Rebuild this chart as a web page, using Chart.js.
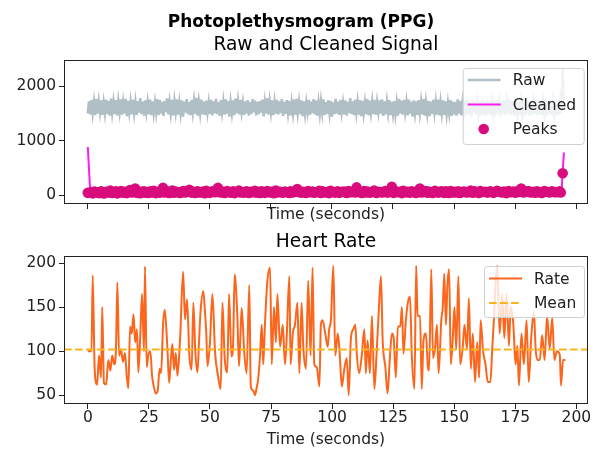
<!DOCTYPE html>
<html>
<head>
<meta charset="utf-8">
<script src="https://cdn.jsdelivr.net/npm/chart.js@4.4.1/dist/chart.umd.min.js"></script>
<style>
  body { margin: 0; background: #fff; }
  #wrap { position: relative; width: 593px; height: 450px; }
  canvas { position: absolute; left: 0; }
</style>
</head>
<body>
<div id="wrap">
  <canvas id="ppg" width="593" height="230" style="top:0"></canvas>
  <canvas id="hr" width="593" height="220" style="top:230px"></canvas>
</div>
<script>
// x axis (seconds)
const timeMin = -9.75, timeMax = 204.75;
const timeTicks = [0, 25, 50, 75, 100, 125, 150, 175, 200];
const rawStep = 0.5;   // seconds between plotted raw samples
const cleanStep = 1;   // seconds between plotted cleaned samples

// top panel
const signalTicks = [0, 1000, 2000];
const rawSignal = [
  1500,1720,1480,1745,1510,1700,1465,1760,1495,1715,
  1525,1735,1470,1690,1505,1750,1485,1725,1455,1770,
  1515,1705,1490,1740,1460,1720,1530,1755,1475,1695,
  1500,1765,1445,1730,1520,1710,1480,1745,1505,1700,
  1470,1725,1510,1780,1490,1715,1455,1735,1525,1705,
  1485,1750,1465,1720,1500,1695,1515,1760,1470,1740,
  1495,1710,1450,1730,1520,1775,1480,1700,1505,1745,
  1460,1720,1530,1755,1475,1690,1500,1735,1440,1715,
  1510,1760,1485,1705,1465,1740,1520,1725,1490,1785,
  1455,1700,1505,1750,1480,1715,1470,1730,1515,1695,
  1490,1745,1460,1720,1500,1765,1485,1705,1450,1740,
  1520,1710,1475,1755,1495,1725,1440,1700,1510,1735,
  1465,1770,1505,1715,1480,1745,1525,1690,1470,1720,
  1500,1740,1455,1705,1490,1760,1515,1730,1460,1710,
  1485,1725,1510,1750,1445,1695,1500,1775,1475,1715,
  1520,1735,1465,1700,1495,1745,1480,1720,1505,1760,
  1450,1710,1490,1740,1515,1725,1460,1690,1500,1750,
  1475,1765,1510,1705,1485,1735,1445,1720,1495,1700,
  1530,1745,1470,1715,1505,1760,1480,1730,1455,1695,
  1495,1720,1520,1755,1465,1705,1490,1740,1510,1725,
  1440,1700,1485,1765,1500,1715,1470,1745,1520,1690,
  1480,1735,1455,1710,1505,1780,1490,1720,1465,1750,
  1510,1705,1475,1740,1445,1725,1500,1695,1485,1760,
  1460,1730,1515,1715,1490,1745,1470,1700,1525,1735,
  1495,1755,1450,1720,1480,1705,1510,1740,1465,1710,
  1505,1725,1485,1690,1455,1765,1500,1730,1475,1745,
  1520,1700,1460,1750,1495,1715,1440,1735,1510,1720,
  1470,1740,1505,1705,1480,1760,1455,1695,1500,1725,
  1445,1715,1490,1745,1515,1710,1475,1750,1460,1700,
  1500,1735,1470,1720,1485,1690,1510,1740,1450,1715,
  1480,1705,1455,1755,1495,1725,1465,1700,1505,1730,
  1460,1745,1490,1710,1440,1735,1500,1720,1475,1695,
  1510,1725,1465,1750,1485,1705,1455,1740,1495,1715,
  1470,1700,1505,1730,1460,1745,1490,1690,1445,1720,
  1495,1735,1475,1710,1500,1755,1465,1725,1485,1705,
  1455,1740,1510,1715,1470,1695,1490,1730,1460,1745,
  1500,1710,1450,1725,1480,1705,1495,1740,1465,1720,
  1485,1735,1470,1700,1505,1750,1455,1715,1490,1730,
  1475,1705,1495,1725,1460,1740,1480,1710,1500,2320,
  1560
];
const cleanedSignal = [
  880,45,5,60,12,55,-5,65,10,50,
  0,58,15,62,-8,48,20,66,3,54,
  8,60,-4,52,18,64,2,57,11,49,
  -6,61,14,55,0,67,9,50,-3,59,
  16,53,4,63,-7,56,12,48,1,65,
  7,51,-2,60,15,54,-5,62,10,47,
  3,66,13,50,-8,58,6,55,18,61,
  -1,49,9,64,2,52,-6,59,14,57,
  5,63,-3,50,11,66,0,54,8,48,
  -4,60,16,53,3,62,-7,56,12,51,
  1,65,7,49,-2,58,15,61,4,55,
  -5,52,10,64,0,57,13,50,-6,60,
  9,48,2,63,17,54,-3,59,6,66,
  -8,51,11,56,3,62,-1,49,14,58,
  5,64,-4,53,10,60,1,55,-7,61,
  12,50,4,57,-2,65,8,52,16,59,
  0,54,-5,62,9,48,3,63,-3,56,
  13,51,6,60,-8,58,11,49,2,64,
  -1,55,15,61,4,53,-6,57,10,50,
  7,58,5,62,40,780
];

// heart rate (one value per detected beat, time in seconds)
const hrTime = [
  0,1.5,2,2.8,3.8,4.6,5.4,5.9,6.6,7.5,
  8.4,9.2,10,10.8,11.5,12.1,12.8,13.6,14.4,15.2,
  16,16.6,17.3,18,18.7,19.4,20.1,20.7,21.5,22.2,
  23,23.4,24.1,24.8,25.6,26.3,27,27.8,28.6,29.4,
  30,30.8,31.5,32.6,33.3,34,34.6,35.3,36,36.7,
  37.8,39,39.8,40.6,41.6,42.5,43.2,44,44.9,45.5,
  46.2,47.3,47.9,48.5,49,50,51,52.1,53.3,54.4,
  55.1,56,57.1,57.8,58.8,59.5,60.1,61.2,61.9,62.5,
  63,64,65,66.1,66.7,67.8,68.4,69.1,69.8,70.5,
  71.2,71.8,72.5,73.5,74.6,75.3,76.2,77,77.6,78.7,
  79.8,80.7,81.4,82.5,83,83.9,84.8,85.8,86.6,87.5,
  88.2,89.3,90.2,91.2,92,92.7,93.7,94.8,95.4,96.1,
  97.2,98.2,98.8,99.5,100.5,101.3,102.3,103,104,105,
  106,106.8,107.7,108.7,109.5,110.1,111.1,112.2,113.2,113.8,
  114.5,115.5,116.3,117.3,118.2,119.1,120,120.7,121.8,122.7,
  123.7,124.5,125.2,126.1,126.9,127.9,128.6,129.2,130.2,131,
  131.9,132.6,133.7,134.4,135,136,136.7,137.4,138.4,139.2,
  139.7,140.6,141.3,142.2,142.9,143.6,144.7,145.3,145.9,146.6,
  147.2,147.9,148.6,149.4,150.1,150.8,151.7,152.4,153.4,154.2,
  155.2,156,156.8,157.6,158.5,159.4,160.2,160.8,161.8,162.8,
  163.7,164.8,165.5,166.2,167.6,168.6,169.6,170.5,171.4,172.4,
  173.1,174.2,175.1,175.8,176.5,177.5,178.5,179.6,180.5,181.5,
  182.6,183.3,184,185,186,187,188,189.1,190.1,191,
  192,193.2,193.7,194.5,195.5
];
const hrRate = [
  100,100,186,80,62,95,70,150,64,62,
  90,78,95,85,100,178,95,102,88,98,
  70,58,128,120,142,110,125,76,120,165,
  100,196,82,96,100,72,60,52,55,80,
  75,130,147,102,64,90,108,79,98,72,
  116,190,136,159,94,79,155,100,76,110,
  147,168,147,120,83,110,165,98,72,57,
  155,94,76,165,94,110,187,140,83,120,
  149,100,75,175,60,55,50,58,70,95,
  130,85,130,180,195,85,150,110,165,105,
  130,85,115,185,85,120,130,155,75,155,
  105,80,180,95,195,85,82,60,130,135,
  120,105,125,135,197,95,120,102,60,80,
  92,50,115,125,130,97,75,97,125,75,
  112,75,140,57,97,145,185,112,82,52,
  95,120,115,70,128,128,150,97,135,155,
  162,97,57,197,140,140,57,112,120,82,
  78,193,92,105,130,75,135,150,188,130,
  175,193,85,115,150,102,185,85,102,130,
  102,160,80,120,65,110,70,135,100,85,
  65,65,100,135,197,120,165,115,165,106,
  150,130,85,106,61,120,85,135,65,115,
  145,103,90,90,118,90,140,103,138,90,
  100,96,61,90,90
];
const hrMean = 102;
const rateTicks = [50, 100, 150, 200];

// cleaned amplitude at each beat (paired with hrTime by index)
const peakAmp = [
  40,55,30,62,48,35,70,52,28,60,
  45,80,38,55,66,30,50,72,42,58,
  35,64,90,48,55,120,40,62,33,57,
  70,44,52,38,66,49,75,35,58,42,
  60,130,45,68,37,55,80,41,63,50,
  36,72,48,58,95,44,61,38,70,52,
  47,65,33,78,55,40,68,50,130,45,
  62,38,74,51,43,66,35,59,80,48,
  55,42,70,36,61,50,77,44,58,39,
  68,53,40,72,46,60,34,82,49,57,
  41,65,54,38,70,47,63,110,52,44,
  59,36,72,50,64,41,56,75,38,66,
  48,60,35,78,52,44,69,40,58,63,
  37,74,50,62,45,140,56,39,71,48,
  65,42,58,80,36,60,53,47,72,44,
  57,150,40,68,52,61,35,76,49,58,
  43,70,55,38,64,120,46,59,72,41,
  62,50,36,75,54,44,68,57,40,66,
  52,39,73,48,61,45,70,36,58,64,
  47,56,80,42,67,51,38,74,55,60,
  44,69,53,40,77,58,46,63,35,71,
  50,62,41,68,55,120,45,59,73,48,
  57,42,66,51,38,74,60,45,69,53,
  50,70,45,400
];

const FONT = 'DejaVu Sans';
const SMALL = 15.5, LARGE = 18.6;
Chart.defaults.font.family = FONT;
Chart.defaults.font.size = SMALL;
Chart.defaults.color = '#222';

// box around the plot area, like matplotlib spines
const frame = {
  id: 'frame',
  afterDraw(chart) {
    const a = chart.chartArea, ctx = chart.ctx;
    ctx.save();
    ctx.strokeStyle = '#222';
    ctx.lineWidth = 1;
    ctx.strokeRect(Math.round(a.left) + 0.5, Math.round(a.top) + 0.5,
      Math.round(a.right - a.left) - 1, Math.round(a.bottom - a.top) - 1);
    ctx.restore();
  }
};

// legend drawn inside the plot, upper right
const insideLegend = {
  id: 'insideLegend',
  afterDraw(chart, args, o) {
    const a = chart.chartArea, ctx = chart.ctx;
    const x = a.right - 4 - o.width, y = a.top + o.top;
    ctx.save();
    ctx.fillStyle = 'rgba(255,255,255,0.8)';
    ctx.strokeStyle = '#d0d0d0';
    ctx.lineWidth = 1;
    ctx.beginPath();
    ctx.roundRect(x + 0.5, y + 0.5, o.width, o.height, 3);
    ctx.fill();
    ctx.stroke();
    ctx.font = SMALL + 'px "' + FONT + '"';
    ctx.textBaseline = 'middle';
    o.items.forEach((label, i) => {
      const ds = chart.data.datasets.find(d => d.label === label);
      const cy = y + o.first + i * o.gap;
      if (ds.showLine === false) {
        ctx.fillStyle = ds.backgroundColor;
        ctx.beginPath();
        ctx.arc(x + 21, cy, ds.pointRadius, 0, Math.PI * 2);
        ctx.fill();
      } else {
        ctx.strokeStyle = ds.borderColor;
        ctx.lineWidth = ds.legendWidth || ds.borderWidth;
        ctx.setLineDash(ds.borderDash || []);
        ctx.beginPath();
        ctx.moveTo(x + 5, cy);
        ctx.lineTo(x + 38, cy);
        ctx.stroke();
        ctx.setLineDash([]);
      }
      ctx.fillStyle = '#222';
      ctx.fillText(label, x + 50, cy + 1);
    });
    ctx.restore();
  }
};

function pts(xs, ys) { return ys.map((v, i) => ({ x: xs[i], y: v })); }
function grid(values) {
  return (s) => { s.ticks = values.map(v => ({ value: v })); };
}
const tickGrid = { display: true, drawOnChartArea: false, drawTicks: true, tickLength: 5, color: '#222', lineWidth: 1 };

const rawTime = rawSignal.map((v, i) => i * rawStep);
const cleanTime = cleanedSignal.map((v, i) => i * cleanStep);

new Chart(document.getElementById('ppg'), {
  type: 'line',
  data: {
    datasets: [
      { label: 'Peaks', data: pts(hrTime, peakAmp), showLine: false, pointRadius: 5.3,
        pointHoverRadius: 5.3, backgroundColor: '#D80C7C', borderWidth: 0, pointBorderWidth: 0 },
      { label: 'Cleaned', data: pts(cleanTime, cleanedSignal), borderColor: '#FB1CF0',
        borderWidth: 2, pointRadius: 0, tension: 0 },
      { label: 'Raw', data: pts(rawTime, rawSignal), borderColor: '#B0BEC5',
        borderWidth: 2.6, legendWidth: 2.5, pointRadius: 0, tension: 0 }
    ]
  },
  options: {
    responsive: false,
    animation: false,
    events: [],
    layout: { padding: { left: 14, right: 5, top: 0, bottom: 0 } },
    plugins: {
      legend: { display: false },
      tooltip: { enabled: false },
      title: { display: true, text: 'Photoplethysmogram (PPG)', color: '#000',
        font: { size: 17, weight: 'bold' }, padding: { top: 12, bottom: 0 } },
      subtitle: { display: true, text: 'Raw and Cleaned Signal', color: '#000', fullSize: false,
        font: { size: LARGE }, padding: { top: 1.4, bottom: 3.9 } },
      insideLegend: { items: ['Raw', 'Cleaned', 'Peaks'], width: 121, height: 76, top: 8, first: 12, gap: 24.5 }
    },
    scales: {
      x: {
        type: 'linear', min: timeMin, max: timeMax,
        afterBuildTicks: grid(timeTicks),
        afterFit: s => { s.height = 26; },
        ticks: { display: false },
        grid: tickGrid,
        border: { display: false },
        title: { display: true, text: 'Time (seconds)', color: '#222', padding: { top: 0, bottom: 5.7 } }
      },
      y: {
        min: -165, max: 2477,
        afterBuildTicks: grid(signalTicks),
        afterFit: s => { s.width = 50; },
        ticks: { callback: v => String(v), padding: 3 },
        grid: tickGrid,
        border: { display: false }
      }
    }
  },
  plugins: [frame, insideLegend]
});

new Chart(document.getElementById('hr'), {
  type: 'line',
  data: {
    datasets: [
      { label: 'Mean', data: [{ x: timeMin, y: hrMean }, { x: timeMax, y: hrMean }],
        borderColor: '#FBB41C', borderWidth: 2, borderDash: [7.7, 3.3], pointRadius: 0 },
      { label: 'Rate', data: pts(hrTime, hrRate), borderColor: '#FB661C',
        borderWidth: 2, pointRadius: 0, cubicInterpolationMode: 'monotone' }
    ]
  },
  options: {
    responsive: false,
    animation: false,
    events: [],
    layout: { padding: { left: 0, right: 5, top: 0, bottom: 0 } },
    plugins: {
      legend: { display: false },
      tooltip: { enabled: false },
      title: { display: true, text: 'Heart Rate', color: '#000', fullSize: false,
        font: { size: LARGE, weight: 'normal' }, padding: { top: 0.9, bottom: 2.8 } },
      insideLegend: { items: ['Rate', 'Mean'], width: 100, height: 51, top: 10, first: 12.5, gap: 24.5 }
    },
    scales: {
      x: {
        type: 'linear', min: timeMin, max: timeMax,
        afterBuildTicks: grid(timeTicks),
        afterFit: s => { s.height = 46; },
        ticks: { callback: v => String(v), padding: 0, maxRotation: 0 },
        grid: tickGrid,
        border: { display: false },
        title: { display: true, text: 'Time (seconds)', color: '#222', padding: { top: 0, bottom: 1 } }
      },
      y: {
        min: 40, max: 208,
        afterBuildTicks: grid(rateTicks),
        afterFit: s => { s.width = 64; },
        ticks: { callback: v => String(v), padding: 3 },
        grid: tickGrid,
        border: { display: false }
      }
    }
  },
  plugins: [frame, insideLegend]
});
</script>
</body>
</html>
